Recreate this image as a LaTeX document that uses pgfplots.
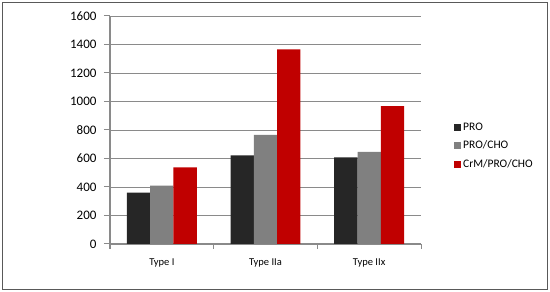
\documentclass[border=0pt]{standalone}
\usepackage{pgfplots}
\pgfplotsset{compat=1.18}
\usepackage{fontspec}
\setmainfont{Carlito}
\definecolor{cpro}{HTML}{262626}
\definecolor{ccho}{HTML}{808080}
\definecolor{ccrm}{HTML}{C00000}
\definecolor{gridc}{HTML}{8A8A8A}
\begin{document}
\begin{tikzpicture}[x=1pt,y=1pt]
\useasboundingbox (0,0) rectangle (550,292);
\draw[line width=1.5pt, color=black!65] (2.5,2.5) rectangle (547.5,289.5);
\begin{axis}[
  at={(110pt,48pt)}, anchor=south west,
  scale only axis, width=311pt, height=228pt,
  ybar=0pt, bar width=23.3pt,
  xmin=-0.5, xmax=2.5, ymin=0, ymax=1600,
  xtick={0,1,2}, xticklabels={Type I, Type IIa, Type IIx},
  minor xtick={-0.5,0.5,1.5,2.5},
  ytick={0,200,...,1600},
  axis lines*=left,
  axis line style={gridc, line width=1pt, -},
  major x tick style={draw=none},
  tick style={gridc, line width=1pt},
  tick align=outside, major tick length=6pt, minor tick length=5pt,
  ymajorgrids, grid style={gridc, line width=0.8pt},
  y tick label style={font=\fontsize{13}{15}\selectfont, xshift=-4pt},
  x tick label style={font=\fontsize{10.5}{12}\selectfont, yshift=-5pt},
  /pgf/number format/assume math mode=true,
  /pgf/number format/1000 sep={},
  legend style={at={(1.103,0.43)}, anchor=west, draw=none, fill=none,
    font=\fontsize{11.5}{13}\selectfont, row sep=5pt, inner sep=1pt},
  legend cell align=left,
  legend image code/.code={\fill[#1] (0pt,-3.5pt) rectangle (7pt,3.5pt);},
]
\addplot[fill=cpro, draw=none] coordinates {(0,360) (1,622) (2,608)};
\addplot[fill=ccho, draw=none] coordinates {(0,409) (1,765) (2,646)};
\addplot[fill=ccrm, draw=none] coordinates {(0,538) (1,1366) (2,968)};
\legend{PRO, PRO/CHO, CrM/PRO/CHO}
\end{axis}
\end{tikzpicture}
\end{document}
